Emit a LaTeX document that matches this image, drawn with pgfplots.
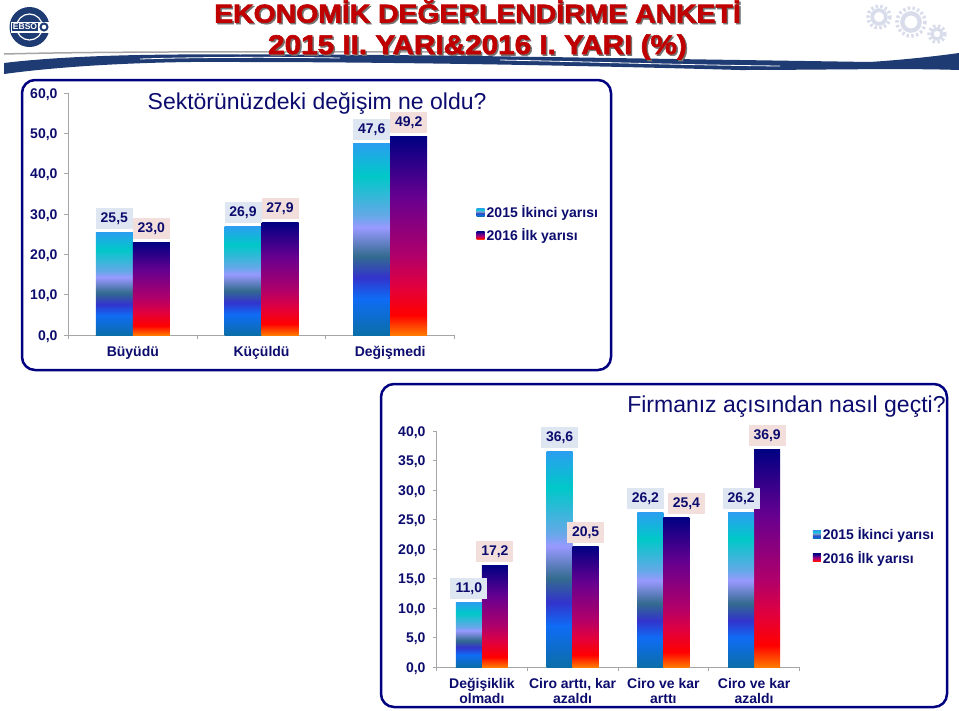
\documentclass[border=0pt]{standalone}
\usepackage{fontspec}
\setmainfont{Liberation Sans}
\newfontfamily\titlefont[FakeBold=2.2, FakeStretch=1.1]{Liberation Sans Bold}
\usepackage{pgfplots}
\pgfplotsset{compat=1.18}

\definecolor{frame}{HTML}{000080}
\definecolor{ink}{HTML}{0C0C6E}
\definecolor{axisgray}{HTML}{A6A6A6}
\definecolor{labelA}{HTML}{DEE6F2}
\definecolor{labelB}{HTML}{F2DFDC}
\definecolor{swoosh}{HTML}{1F3B73}
\definecolor{gear}{HTML}{D9DDEB}
\definecolor{titlered}{HTML}{C00000}

\definecolor{aT}{HTML}{2B9EF0}
\definecolor{aC}{HTML}{00C8C8}
\definecolor{aL}{HTML}{66A8E8}
\definecolor{aP}{HTML}{9999FF}
\definecolor{aS}{HTML}{336B8F}
\definecolor{aI}{HTML}{3333CC}
\definecolor{aB}{HTML}{0F6CF5}
\definecolor{aE}{HTML}{0B6EA8}
\definecolor{bT}{HTML}{000082}
\definecolor{bP}{HTML}{660090}
\definecolor{bM}{HTML}{B0006A}
\definecolor{bC}{HTML}{E00040}
\definecolor{bR}{HTML}{FF0000}
\definecolor{bE}{HTML}{FF7A00}

% path box covers 25bp..75bp of the shading
\pgfdeclareverticalshading{barA}{100bp}{
	color(0bp)=(aE); color(25bp)=(aE); color(34.5bp)=(aB); color(40bp)=(aI);
	color(45.5bp)=(aS); color(53bp)=(aP); color(56bp)=(aL); color(66.5bp)=(aC);
	color(75bp)=(aT); color(100bp)=(aT)}
\pgfdeclareverticalshading{barB}{100bp}{
	color(0bp)=(bE); color(25bp)=(bE); color(30bp)=(bR); color(37.5bp)=(bC);
	color(45bp)=(bM); color(60bp)=(bP); color(75bp)=(bT); color(100bp)=(bT)}

\pgfplotsset{
	comma numbers/.style = {
		/pgf/number format/use comma,
		/pgf/number format/fixed,
		/pgf/number format/fixed zerofill,
		/pgf/number format/precision = 1,
		/pgf/number format/assume math mode = true
	},
	survey/.style = {
		scale only axis,
		ybar = 0pt,
		ymin = 0,
		axis x line* = bottom,
		axis y line* = left,
		axis line style = {draw = axisgray, line width = 1pt, -},
		tick style = {draw = axisgray, line width = 0.8pt},
		tick align = outside,
		major tick length = 4pt,
		xticklabels = {},
		extra x tick style = {major tick length = 0pt},
		ticklabel style = {
			font = \bfseries\fontsize{14}{15}\selectfont,
			text = ink
		},
		xticklabel style = {align = center, yshift = -8pt},
		yticklabel style = {/pgfplots/comma numbers, xshift = -3.5pt, yshift = -1.5pt},
		nodes near coords,
		nodes near coords style = {
			font = \bfseries\fontsize{14}{14}\selectfont,
			text = ink,
			anchor = south,
			inner sep = 0pt,
			minimum width = 37pt,
			minimum height = 21pt,
			yshift = 3pt,
			/pgfplots/comma numbers
		},
		legend image code/.code = {
			\path[#1] (0pt, -4pt) rectangle (8pt, 4pt);
		},
		legend cell align = left,
		legend style = {
			draw = none,
			fill = none,
			inner sep = 0pt,
			font = \bfseries\fontsize{14}{14}\selectfont,
			text = ink,
			row sep = 6pt,
			/tikz/every even column/.append style = {column sep = 3.5pt}
		},
		title style = {font = \fontsize{23}{23}\selectfont, text = ink, anchor = center}
	},
	% one \addplot per bar, so that the gradient spans each bar on its own
	seriesA/.style = {
		draw = none, shade, shading = barA, forget plot, bar shift = -#1,
		every node near coord/.append style = {fill = labelA}
	},
	seriesB/.style = {
		draw = none, shade, shading = barB, forget plot, bar shift = #1,
		every node near coord/.append style = {fill = labelB}
	}
}

\begin{document}
\begin{tikzpicture}[x = 1pt, y = -1pt]
\path[use as bounding box, fill = white] (0, 0) rectangle (959, 710);

% logo
\fill[swoosh] (29.5, 27) circle (20);
\draw[white, line width = 1.2] (29.5, 27) circle (13);
\fill[white] (11, 21.5) rectangle (50, 32.5);
\fill[swoosh] (12, 23) rectangle (38, 31);
\node[white, font = \bfseries\fontsize{8.5}{9}\selectfont, inner sep = 0pt] at (25, 27) {EBSO};
\draw[swoosh, line width = 2] (44, 27) circle (3.5);

% gears
\foreach \gx/\gy/\gr in {879/17/11, 911/22/14, 937/34/8} {
	\draw[gear, line width = 3.5, dash pattern = on 2.4 off 2.4] (\gx, \gy) circle (\gr);
	\draw[gear, line width = 0.2*\gr+1.5] (\gx, \gy) circle (0.62*\gr);
}

% band under the title
\draw[axisgray, line width = 1.5] (4, 54) .. controls (120, 51) and (300, 52) .. (450, 52);
\fill[swoosh] (4, 63) .. controls (70, 55) and (160, 54) .. (240, 54.5)
	.. controls (400, 54) and (600, 58) .. (740, 60)
	-- (870, 62) .. controls (900, 60) and (930, 57) .. (959, 53)
	-- (959, 70) .. controls (900, 68) and (820, 70) .. (740, 70)
	.. controls (600, 66) and (400, 62) .. (240, 62)
	.. controls (160, 61) and (70, 65) .. (4, 74) -- cycle;
\draw[white, line width = 0.8] (140, 59) .. controls (200, 57) and (280, 57) .. (340, 58);
\draw[white, line width = 0.8] (500, 60) .. controls (600, 62) and (680, 65) .. (780, 66);

% title
\foreach \tc/\dd in {black!55/1.5, titlered/0} {
	\node[text = \tc, font = \titlefont\fontsize{25.8}{26}\selectfont, inner sep = 0pt, anchor = base] at (477.5+\dd, 22.5+\dd) {EKONOMİK DEĞERLENDİRME ANKETİ};
	\node[text = \tc, font = \titlefont\fontsize{27}{27}\selectfont, inner sep = 0pt, anchor = base] at (477.5+\dd, 54+\dd) {2015 II. YARI\&2016 I. YARI (\%)};
}

% frames
\draw[frame, line width = 2.5, rounded corners = 13] (22, 80) rectangle (611, 370);
\draw[frame, line width = 2.5, rounded corners = 13] (381, 384) rectangle (947, 707);

\begin{axis}[
	survey,
	at = {(68.5pt, -335pt)},
	anchor = south west,
	width = 386pt,
	height = 242pt,
	bar width = 37pt,
	xmin = -0.5,
	xmax = 2.5,
	ymax = 60,
	ytick distance = 10,
	xtick = {-0.5, 0.5, 1.5, 2.5},
	extra x ticks = {0, 1, 2},
	extra x tick labels = {Büyüdü, Küçüldü, Değişmedi},
	title = {Sektörünüzdeki değişim ne oldu?},
	title style = {at = {(0.644, 0.934)}},
	legend style = {at = {(1.057, 0.545)}, anchor = north west}
]
\addlegendimage{seriesA = 18.5pt}
\addlegendimage{seriesB = 18.5pt}
\addplot[seriesA = 18.5pt] coordinates {(0, 25.5)};
\addplot[seriesB = 18.5pt] coordinates {(0, 23.0)};
\addplot[seriesA = 18.5pt] coordinates {(1, 26.9)};
\addplot[seriesB = 18.5pt] coordinates {(1, 27.9)};
\addplot[seriesA = 18.5pt] coordinates {(2, 47.6)};
\addplot[seriesB = 18.5pt] coordinates {(2, 49.2)};
\legend{2015 İkinci yarısı, 2016 İlk yarısı}
\end{axis}

\begin{axis}[
	survey,
	at = {(436.5pt, -667pt)},
	anchor = south west,
	width = 363pt,
	height = 236pt,
	bar width = 26pt,
	xmin = -0.5,
	xmax = 3.5,
	ymax = 40,
	ytick distance = 5,
	xtick = {-0.5, 0.5, 1.5, 2.5, 3.5},
	extra x ticks = {0, 1, 2, 3},
	extra x tick labels = {Değişiklik\\olmadı, {Ciro arttı, kar\\azaldı}, Ciro ve kar\\arttı, Ciro ve kar\\azaldı},
	title = {Firmanız açısından nasıl geçti?},
	title style = {at = {(0.964, 1.076)}},
	legend style = {at = {(1.036, 0.60)}, anchor = north west}
]
\addlegendimage{seriesA = 13pt}
\addlegendimage{seriesB = 13pt}
% order chosen so that each label box lies over the neighbouring bar
\addplot[seriesB = 13pt] coordinates {(0, 17.2)};
\addplot[seriesA = 13pt] coordinates {(0, 11.0)};
\addplot[seriesA = 13pt] coordinates {(1, 36.6)};
\addplot[seriesB = 13pt] coordinates {(1, 20.5)};
\addplot[seriesA = 13pt, every node near coord/.append style = {xshift = -5pt}] coordinates {(2, 26.2)};
\addplot[seriesB = 13pt, every node near coord/.append style = {xshift = 10pt}] coordinates {(2, 25.4)};
\addplot[seriesB = 13pt] coordinates {(3, 36.9)};
\addplot[seriesA = 13pt] coordinates {(3, 26.2)};
\legend{2015 İkinci yarısı, 2016 İlk yarısı}
\end{axis}
\end{tikzpicture}
\end{document}
